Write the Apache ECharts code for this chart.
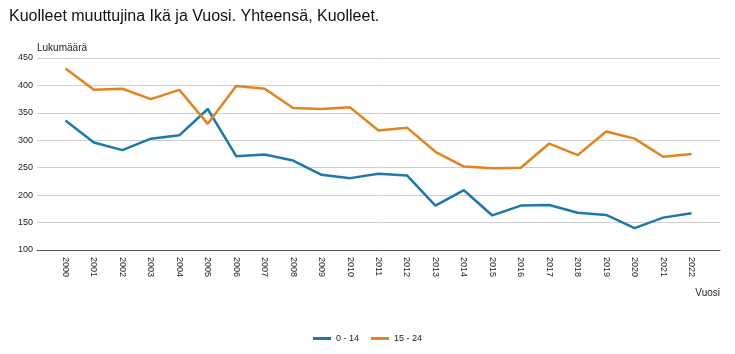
<!DOCTYPE html>
<html>
<head>
<meta charset="utf-8">
<script src="https://cdn.jsdelivr.net/npm/echarts@6/dist/echarts.min.js"></script>
<style>
  html, body { margin: 0; padding: 0; background: #fff; }
  #chart { width: 735px; height: 354px; }
</style>
</head>
<body>
<div id="chart"></div>
<script>
// vuodet ja ikäryhmät
const years = [2000, 2001, 2002, 2003, 2004, 2005, 2006, 2007, 2008, 2009, 2010, 2011,
  2012, 2013, 2014, 2015, 2016, 2017, 2018, 2019, 2020, 2021, 2022]
const age0to14 = [336, 296, 282, 303, 309, 357, 271, 274, 263, 237, 231, 239,
  236, 181, 209, 163, 181, 182, 168, 164, 140, 159, 167]
const age15to24 = [431, 392, 394, 375, 392, 330, 399, 394, 359, 357, 360, 318,
  323, 279, 252, 249, 250, 294, 273, 316, 303, 270, 275]
const yTicks = [100, 150, 200, 250, 300, 350, 400, 450]

const font = 'Liberation Sans, Arial, sans-serif'

let chart = echarts.init(document.getElementById('chart'))

let option = {
  animation: false,
  title: {
    text: 'Kuolleet muuttujina Ikä ja Vuosi. Yhteensä, Kuolleet.',
    left: 4,
    top: 4,
    textStyle: { fontFamily: font, fontSize: 16, fontWeight: 'normal', color: '#111' },
  },
  legend: {
    bottom: 6,
    left: 'center',
    icon: 'rect',
    itemWidth: 18,
    itemHeight: 3,
    itemGap: 12,
    textStyle: { fontFamily: font, fontSize: 9, color: '#222' },
  },
  grid: { left: 37, right: 15, top: 58, bottom: 104, containLabel: false },
  xAxis: {
    type: 'value',
    min: years[0] - 1,
    max: years[years.length - 1] + 1,
    interval: 1,
    name: 'Vuosi',
    nameLocation: 'end',
    nameGap: 0,
    nameTextStyle: {
      fontFamily: font, fontSize: 10, color: '#222',
      align: 'right', verticalAlign: 'top', padding: [38, 0, 0, 0],
    },
    axisLine: { show: true, lineStyle: { color: '#555', width: 1 } },
    axisTick: { show: false },
    splitLine: { show: false },
    axisLabel: {
      rotate: -90,
      margin: 7,
      fontFamily: font,
      fontSize: 9,
      color: '#222',
      formatter: (v) => (years.indexOf(v) >= 0 ? String(v) : ''),
    },
  },
  yAxis: {
    type: 'value',
    min: yTicks[0],
    max: yTicks[yTicks.length - 1],
    interval: 50,
    name: 'Lukumäärä',
    nameLocation: 'end',
    nameGap: 3,
    nameTextStyle: { fontFamily: font, fontSize: 10, color: '#222', align: 'left' },
    axisLine: { show: false },
    axisTick: { show: false },
    axisLabel: { margin: 4, fontFamily: font, fontSize: 9, color: '#222' },
    splitLine: { lineStyle: { color: '#cfcfcf', width: 1 } },
  },
  series: [
    {
      name: '0 - 14',
      type: 'line',
      data: years.map((y, i) => [y, age0to14[i]]),
      symbol: 'none',
      lineStyle: { width: 2.5, color: '#1b79ad' },
      itemStyle: { color: '#1b79ad' },
    },
    {
      name: '15 - 24',
      type: 'line',
      data: years.map((y, i) => [y, age15to24[i]]),
      symbol: 'none',
      lineStyle: { width: 2.5, color: '#e3831f' },
      itemStyle: { color: '#e3831f' },
    },
  ],
}

chart.setOption(option)
</script>
</body>
</html>
